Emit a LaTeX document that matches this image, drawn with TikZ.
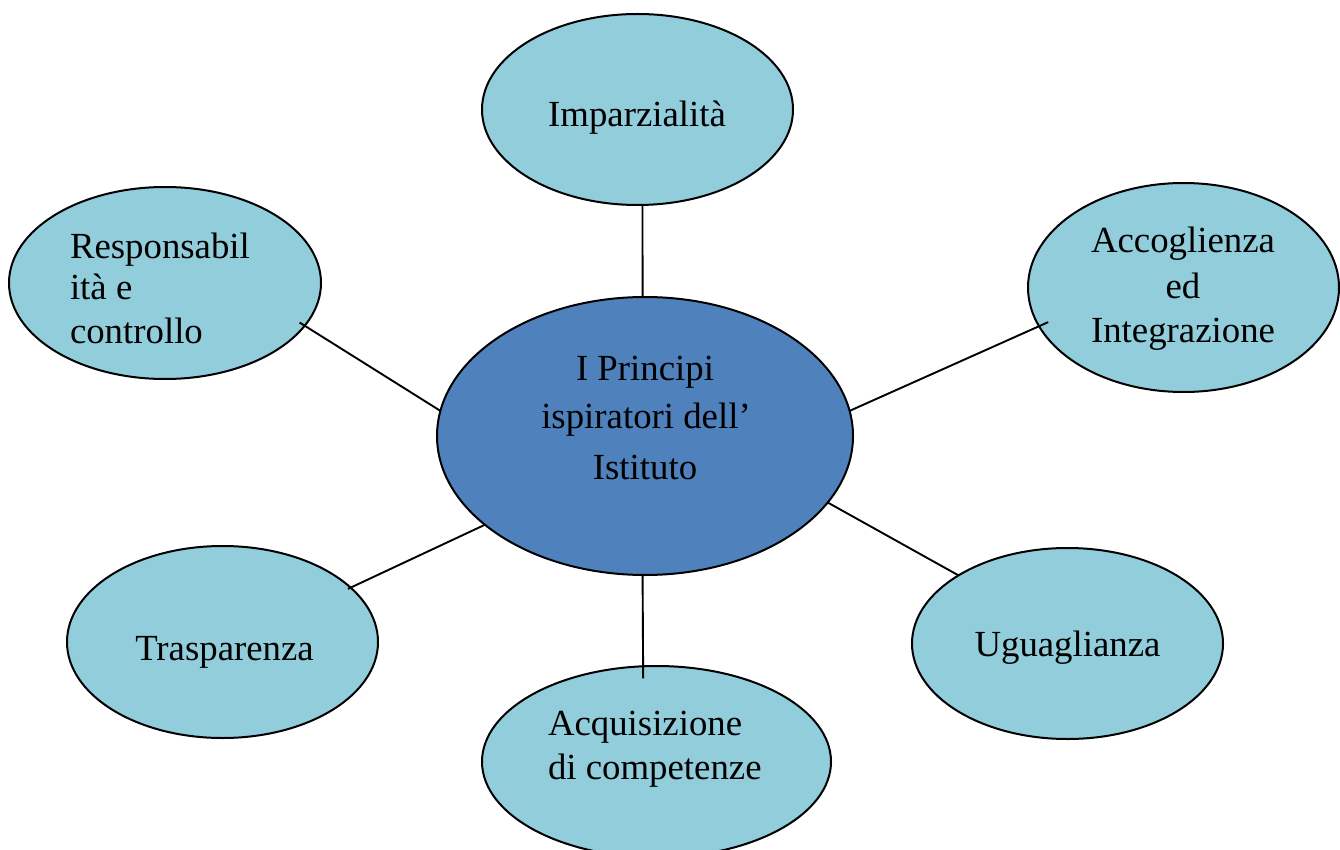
\documentclass[tikz,border=0pt]{standalone}
\usepackage{fontspec}
\setmainfont{Liberation Serif}
\usetikzlibrary{shapes.geometric}
\definecolor{lightfill}{HTML}{92CDDC}
\definecolor{darkfill}{HTML}{4F81BD}
\tikzset{
  bubble/.style={ellipse, draw=black, line width=2pt, fill=lightfill, inner sep=0pt, outer sep=0pt},
  mainbubble/.style={bubble, fill=darkfill},
  conn/.style={draw=black, line width=1.9pt},
  lbl/.style={inner sep=0pt, outer sep=0pt, font=\fontsize{36.8}{44}\selectfont},
}
\begin{document}
\begin{tikzpicture}[x=1pt,y=-1pt]
\useasboundingbox (0,0) rectangle (1340,850);
% ellipses
\node[mainbubble, minimum width=416pt, minimum height=278pt] (main) at (645,436) {};
\node[bubble, minimum width=311pt, minimum height=191pt] (imp) at (637.5,109.5) {};
\node[bubble, minimum width=312pt, minimum height=192pt] (resp) at (165,283) {};
\node[bubble, minimum width=311pt, minimum height=209pt] (acc) at (1183.5,287.5) {};
\node[bubble, minimum width=311pt, minimum height=192pt] (tras) at (222.5,642) {};
\node[bubble, minimum width=311pt, minimum height=191pt] (ugu) at (1067.5,643.5) {};
\node[bubble, minimum width=349pt, minimum height=191.4pt] (acq) at (656.5,761.7) {};
% connectors
\draw[conn] (imp.-87.3) -- (main.91.2);
\draw[conn, shorten <=-6pt] (resp.-17.7) -- (main.173.1);
\draw[conn, shorten <=-10pt] (acc.195.4) -- (main.7.2);
\draw[conn, shorten <=-3pt] (tras.23.6) -- (main.-151.5);
\draw[conn] (ugu.148.3) -- (main.-20.6);
\draw[conn, shorten <=-12pt] (acq.98.6) -- (main.-91.24);
% labels
\node[lbl, anchor=base] (timp) at (637,127) {Imparzialità};
\node[lbl, anchor=base west] (tresp1) at (70,258.3) {Responsabil};
\node[lbl, anchor=base west] (tresp2) at (70,299.3) {ità e};
\node[lbl, anchor=base west] (tresp3) at (70,343.3) {controllo};
\node[lbl, anchor=base] (tacc1) at (1183,253) {Accoglienza};
\node[lbl, anchor=base] (tacc2) at (1183,298) {ed};
\node[lbl, anchor=base] (tacc3) at (1183,342) {Integrazione};
\node[lbl, anchor=base] (tmain1) at (645,380) {I Principi};
\node[lbl, anchor=base] (tmain2) at (646,428) {ispiratori dell’};
\node[lbl, anchor=base] (tmain3) at (645,479) {Istituto};
\node[lbl, anchor=base] (ttras) at (224.5,660) {Trasparenza};
\node[lbl, anchor=base] (tugu) at (1067.5,656) {Uguaglianza};
\node[lbl, anchor=base west] (tacq1) at (548,735) {Acquisizione};
\node[lbl, anchor=base west] (tacq2) at (548,779) {di competenze};
\end{tikzpicture}
\end{document}
